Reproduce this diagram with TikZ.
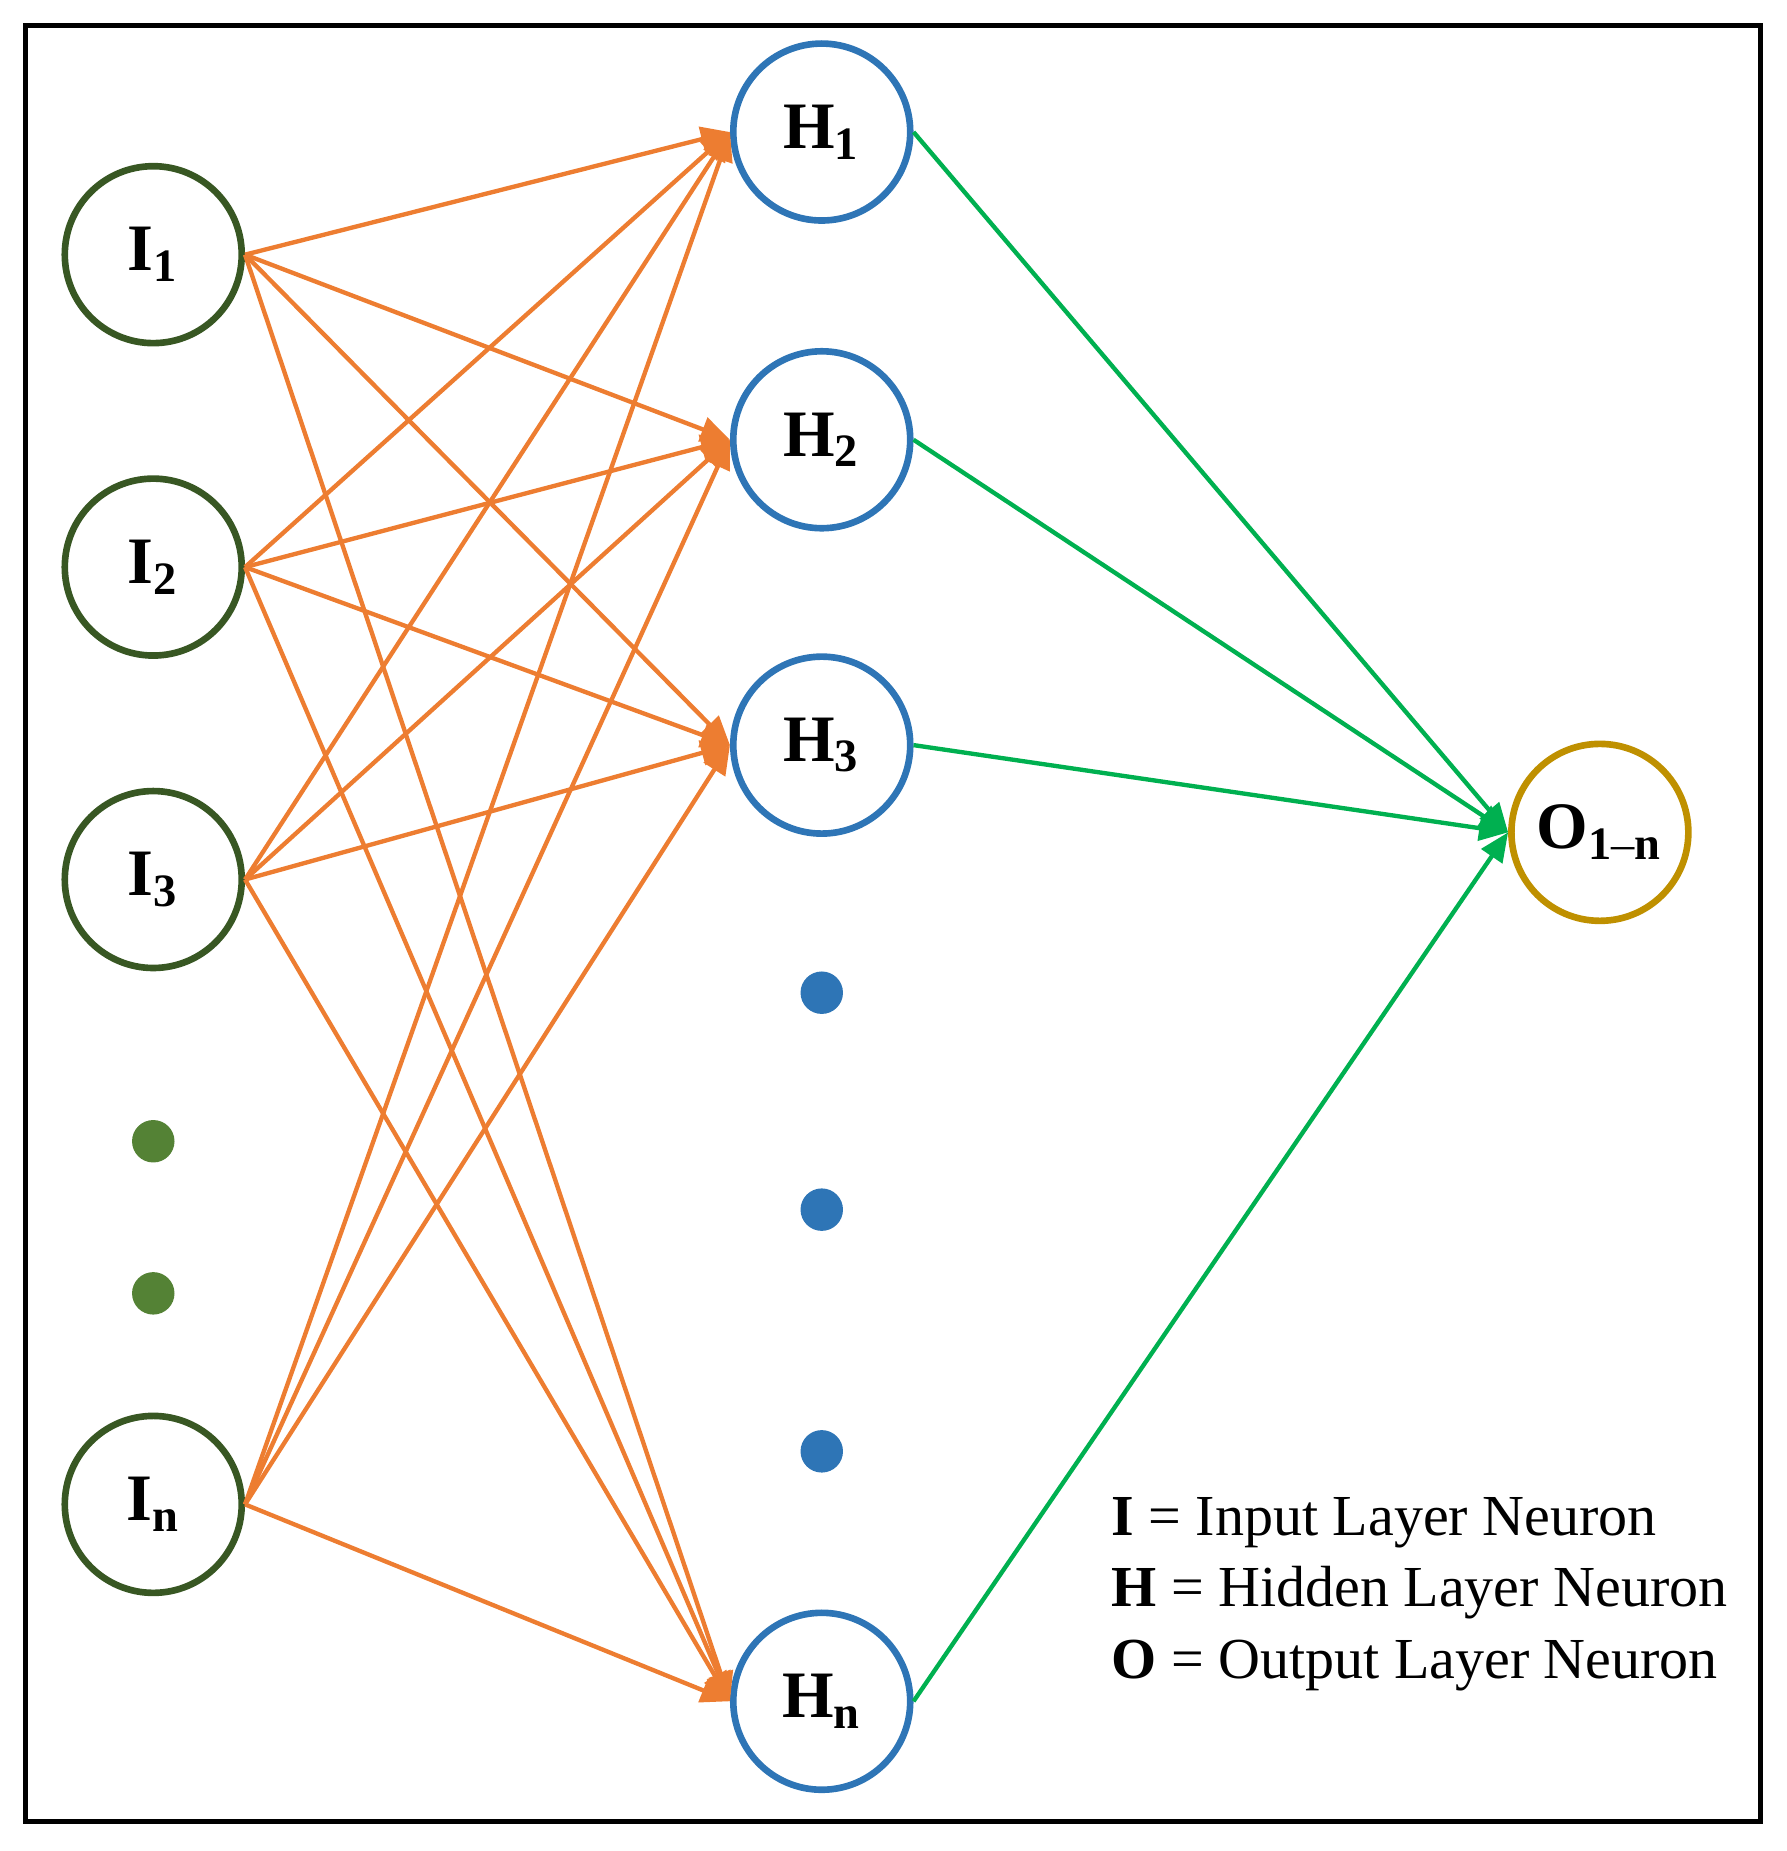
\documentclass[tikz,border=0pt]{standalone}
\usepackage{fontspec}
\setmainfont{Liberation Serif}
\usetikzlibrary{arrows.meta,positioning}
\definecolor{inpc}{RGB}{56,87,35}
\definecolor{inpdot}{RGB}{84,130,53}
\definecolor{hidc}{RGB}{46,117,182}
\definecolor{outc}{RGB}{191,144,0}
\definecolor{wire}{RGB}{237,125,49}
\definecolor{owire}{RGB}{0,176,80}
\tikzset{
  neuron/.style={circle,draw,line width=1.6pt,minimum size=1.5cm,inner sep=0pt,
    font=\fontsize{16}{19}\selectfont\bfseries},
  dotn/.style={circle,fill,minimum size=0.36cm,inner sep=0pt},
  link/.style={draw=wire,line width=1.05pt,-{Triangle[length=7pt,width=6pt]}},
  olink/.style={draw=owire,line width=1.05pt,-{Triangle[length=7pt,width=6pt]}},
}
\begin{document}
\begin{tikzpicture}[x=0.01cm,y=-0.01cm]
  \useasboundingbox (0,0) rectangle (1515,1570);
  \draw[line width=1.2pt] (22,22) rectangle (1493,1545);
  % input layer
  \node [neuron,draw=inpc] (I1) at (130,216) {I$_{\mathbf 1}$};
  \node [neuron,draw=inpc] (I2) at (130,481) {I$_{\mathbf 2}$};
  \node [neuron,draw=inpc] (I3) at (130,746) {I$_{\mathbf 3}$};
  \node [neuron,draw=inpc] (In) at (130,1276) {I$_{\mathbf n}$};
  \node [dotn,inpdot] (D1) at (130,968) {};
  \node [dotn,inpdot] (D2) at (130,1097) {};
  % hidden layer
  \node [neuron,draw=hidc] (H1) at (697,112) {H$_{\mathbf 1}$};
  \node [neuron,draw=hidc] (H2) at (697,373) {H$_{\mathbf 2}$};
  \node [neuron,draw=hidc] (H3) at (697,632) {H$_{\mathbf 3}$};
  \node [neuron,draw=hidc] (Hn) at (697,1443) {H$_{\mathbf n}$};
  \node [dotn,hidc] (E1) at (697,842) {};
  \node [dotn,hidc] (E2) at (697,1026) {};
  \node [dotn,hidc] (E3) at (697,1231) {};
  % output layer
  \node [neuron,draw=outc] (O) at (1357,706) {O$_{\mathbf{1\textendash n}}$};

  \foreach \i in {I1,I2,I3,In}
    \foreach \h in {H1,H2,H3,Hn}
      \draw[link] (\i.east) -- (\h.west);
  \foreach \h in {H1,H2,H3,Hn}
    \draw[olink] (\h.east) -- (O.west);

  \node [anchor=west,align=left,inner sep=0pt,font=\fontsize{14}{17.2}\selectfont] (KEY) at (942,1352)
    {\textbf{I} = Input Layer Neuron\\ \textbf{H} = Hidden Layer Neuron\\ \textbf{O} = Output Layer Neuron};
\end{tikzpicture}
\end{document}
